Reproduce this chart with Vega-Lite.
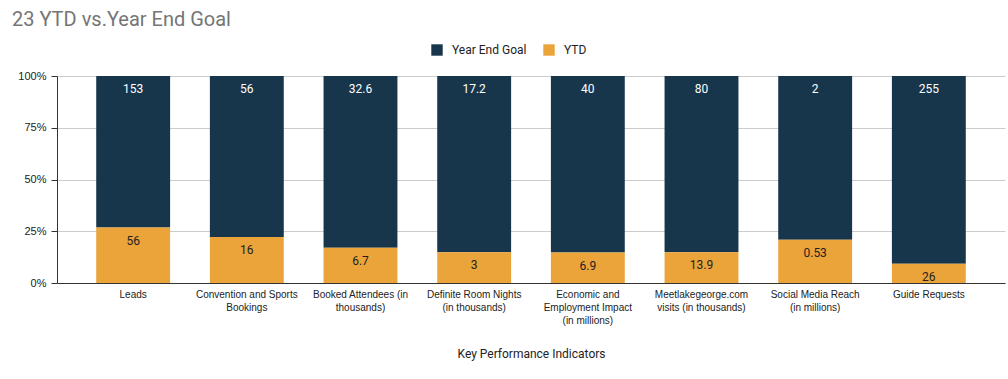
{
  "$schema": "https://vega.github.io/schema/vega-lite/v6.json",
  "autosize": {"type": "none"},
  "padding": {"left": 57, "top": 76, "right": 3, "bottom": 96},
  "width": 948,
  "height": 207,
  "title": {
    "text": "23 YTD vs.Year End Goal",
    "anchor": "start",
    "frame": "group",
    "dx": -45,
    "offset": 14,
    "fontSize": 20,
    "font": "Roboto",
    "fontWeight": "normal",
    "color": "#757575"
  },
  "config": {
    "view": {"stroke": null},
    "font": "Roboto"
  },
  "data": {
    "values": [
      {"kpi": "Leads", "series": "Year End Goal", "value": 153},
      {"kpi": "Leads", "series": "YTD", "value": 56},
      {"kpi": "Convention and Sports Bookings", "series": "Year End Goal", "value": 56},
      {"kpi": "Convention and Sports Bookings", "series": "YTD", "value": 16},
      {"kpi": "Booked Attendees (in thousands)", "series": "Year End Goal", "value": 32.6},
      {"kpi": "Booked Attendees (in thousands)", "series": "YTD", "value": 6.7},
      {"kpi": "Definite Room Nights (in thousands)", "series": "Year End Goal", "value": 17.2},
      {"kpi": "Definite Room Nights (in thousands)", "series": "YTD", "value": 3},
      {"kpi": "Economic and Employment Impact (in millions)", "series": "Year End Goal", "value": 40},
      {"kpi": "Economic and Employment Impact (in millions)", "series": "YTD", "value": 6.9},
      {"kpi": "Meetlakegeorge.com visits (in thousands)", "series": "Year End Goal", "value": 80},
      {"kpi": "Meetlakegeorge.com visits (in thousands)", "series": "YTD", "value": 13.9},
      {"kpi": "Social Media Reach (in millions)", "series": "Year End Goal", "value": 2},
      {"kpi": "Social Media Reach (in millions)", "series": "YTD", "value": 0.53},
      {"kpi": "Guide Requests", "series": "Year End Goal", "value": 255},
      {"kpi": "Guide Requests", "series": "YTD", "value": 26}
    ]
  },
  "encoding": {
    "x": {
      "field": "kpi",
      "type": "nominal",
      "sort": null,
      "scale": {"paddingInner": 0.35, "paddingOuter": 0.345},
      "axis": {
        "title": "Key Performance Indicators",
        "titleFont": "Roboto",
        "titleFontSize": 12,
        "titleFontWeight": "normal",
        "titleColor": "#222222",
        "titlePadding": 23,
        "labelAngle": 0,
        "labelFont": "Liberation Sans",
        "labelFontSize": 10,
        "labelColor": "#222222",
        "labelLineHeight": 13,
        "labelPadding": 6,
        "labelLimit": 200,
        "ticks": false,
        "domainColor": "#333333",
        "labelExpr": "datum.value == 'Convention and Sports Bookings' ? ['Convention and Sports', 'Bookings'] : datum.value == 'Booked Attendees (in thousands)' ? ['Booked Attendees (in', 'thousands)'] : datum.value == 'Definite Room Nights (in thousands)' ? ['Definite Room Nights', '(in thousands)'] : datum.value == 'Economic and Employment Impact (in millions)' ? ['Economic and', 'Employment Impact', '(in millions)'] : datum.value == 'Meetlakegeorge.com visits (in thousands)' ? ['Meetlakegeorge.com', 'visits (in thousands)'] : datum.value == 'Social Media Reach (in millions)' ? ['Social Media Reach', '(in millions)'] : datum.value"
      }
    },
    "y": {
      "field": "value",
      "type": "quantitative",
      "stack": "normalize",
      "axis": {
        "title": null,
        "format": "%",
        "values": [0, 0.25, 0.5, 0.75, 1],
        "labelFont": "Liberation Sans",
        "labelFontSize": 11,
        "labelColor": "#222222",
        "gridColor": "#cccccc",
        "domainColor": "#333333",
        "tickColor": "#333333",
        "tickSize": 6,
        "labelPadding": 5
      }
    },
    "order": {"field": "series", "sort": "ascending"}
  },
  "layer": [
    {
      "mark": {"type": "bar"},
      "encoding": {
        "color": {
          "field": "series",
          "type": "nominal",
          "scale": {"domain": ["Year End Goal", "YTD"], "range": ["#17364b", "#eaa43a"]},
          "legend": {
            "title": null,
            "orient": "none",
            "legendX": 374,
            "legendY": -32,
            "direction": "horizontal",
            "symbolType": "square",
            "symbolSize": 130,
            "symbolStrokeWidth": 0,
            "labelFont": "Roboto",
            "labelFontSize": 12,
            "labelColor": "#222222",
            "labelOffset": 9,
            "columnPadding": 16
          }
        }
      }
    },
    {
      "mark": {"type": "text", "baseline": "middle", "dy": 13, "fontSize": 12, "font": "Roboto"},
      "encoding": {
        "text": {"field": "value", "type": "quantitative"},
        "color": {
          "condition": {"test": "datum.series == 'YTD'", "value": "#222222"},
          "value": "#ffffff"
        }
      }
    }
  ]
}
